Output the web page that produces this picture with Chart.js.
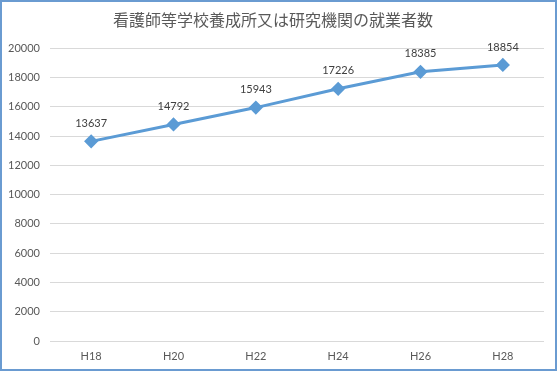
<!DOCTYPE html>
<html><head><meta charset="utf-8">
<script src="https://cdn.jsdelivr.net/npm/chart.js@4/dist/chart.umd.min.js"></script>
<style>
html,body{margin:0;padding:0;background:#fff;}
#box{position:absolute;left:0;top:0;width:553px;height:367px;border:2px solid #6a9bd1;background:#fff;}
canvas{display:block;}
</style></head><body>
<div id="box"><canvas id="c" width="553" height="367"></canvas></div>
<script>
const titleText = '看護師等学校養成所又は研究機関の就業者数';
const categories = ['H18','H20','H22','H24','H26','H28'];
const values = [13637, 14792, 15943, 17226, 18385, 18854];
const yTicks = [0,2000,4000,6000,8000,10000,12000,14000,16000,18000,20000];

const labelPlugin = {
  id: 'dataLabels',
  afterDatasetsDraw(chart) {
    const ctx = chart.ctx;
    const meta = chart.getDatasetMeta(0);
    ctx.save();
    ctx.font = '11px Lato, "Liberation Sans", sans-serif';
    ctx.fillStyle = '#404040';
    ctx.textAlign = 'center';
    ctx.textBaseline = 'middle';
    meta.data.forEach((pt, i) => {
      ctx.fillText(String(values[i]), pt.x, pt.y - 18);
    });
    ctx.restore();
  }
};

new Chart(document.getElementById('c'), {
  type: 'line',
  data: {
    labels: categories,
    datasets: [{
      data: values,
      borderColor: '#5b9bd5',
      backgroundColor: '#5b9bd5',
      borderWidth: 3,
      pointStyle: 'rectRot',
      pointRadius: 5,
      pointHoverRadius: 5,
      tension: 0,
      fill: false
    }]
  },
  options: {
    responsive: false,
    animation: false,
    events: [],
    layout: { padding: { left: 0, right: 11, top: 0, bottom: 0 } },
    plugins: {
      legend: { display: false },
      tooltip: { enabled: false },
      title: {
        display: true,
        text: titleText,
        color: '#595959',
        font: { family: '"Noto Sans CJK JP", sans-serif', size: 16, weight: 'normal' },
        padding: { top: 8, bottom: 19 }
      }
    },
    scales: {
      x: {
        offset: true,
        grid: { display: false, drawTicks: false },
        border: { display: false },
        ticks: { color: '#595959', font: { family: 'Lato, "Liberation Sans", sans-serif', size: 11 }, padding: 9 },
        afterFit(s) { s.height = 28; }
      },
      y: {
        min: 0, max: 20000,
        afterBuildTicks(s) { s.ticks = yTicks.map(v => ({ value: v })); },
        grid: { color: '#d9d9d9', lineWidth: 1, drawTicks: false },
        border: { display: false },
        ticks: { color: '#595959', font: { family: 'Lato, "Liberation Sans", sans-serif', size: 11 }, padding: 10,
                 callback: (v) => String(v) },
        afterFit(s) { s.width = 48; }
      }
    }
  },
  plugins: [labelPlugin]
});
</script>
</body></html>
